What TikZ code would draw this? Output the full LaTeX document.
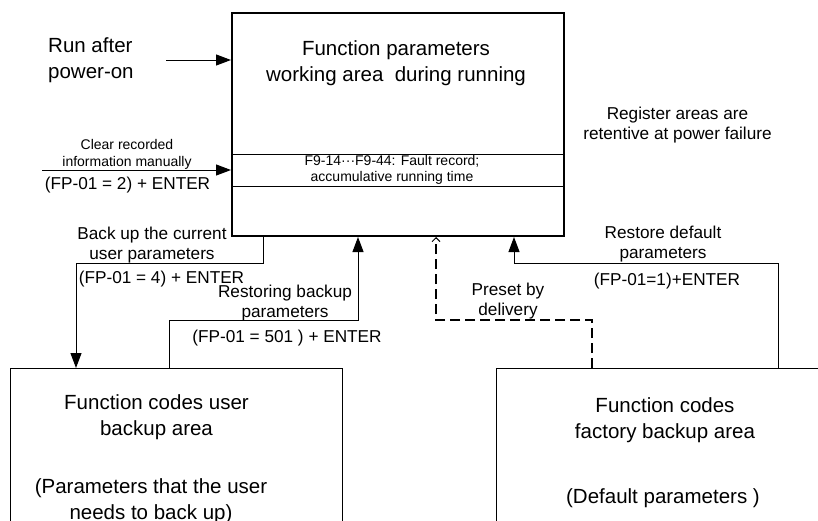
\documentclass[tikz,border=0pt]{standalone}
\usepackage{fontspec}
\setmainfont{Liberation Sans}
\usetikzlibrary{arrows.meta}
\begin{document}
\begin{tikzpicture}[x=1pt,y=-1pt,
  big/.style={font=\fontsize{20.5}{26}\selectfont, align=center, inner sep=0pt},
  mid/.style={font=\fontsize{17.2}{20}\selectfont, align=center, inner sep=0pt},
  sml/.style={font=\fontsize{14}{16.5}\selectfont, align=center, inner sep=0pt},
  box/.style={draw, line width=1pt, inner sep=0pt},
  conn/.style={line width=1pt},
  arr/.style={conn, -{Triangle[length=15pt,width=11pt]}},
  dasharrow/.style={line width=2pt, dash pattern=on 10pt off 5pt, -{Straight Barb[length=4pt,width=8pt,line width=1pt]}}
]
\fill[white] (0,0) rectangle (818,520);
\useasboundingbox (0,0) rectangle (818,520);

% boxes
\node[box, line width=2pt, minimum width=332pt, minimum height=223pt] (main) at (398,124.5) {};
\node[box, minimum width=332pt, minimum height=200pt, anchor=north west] (user) at (10,368) {};
\node[box, minimum width=340pt, minimum height=200pt, anchor=north west] (fact) at (496,368) {};

\coordinate (r1) at (0,154);
\coordinate (r2) at (0,186);
\draw[conn] (main.west |- r1) -- (main.east |- r1);
\draw[conn] (main.west |- r2) -- (main.east |- r2);

% texts in boxes
\node[big] (mt) at (396,63.5) {Function parameters\\working area~ during running};
\node[sml] (ft) at (392,170) {F9-14···F9-44: Fault record;\\accumulative running time};
\node[big] (ut1) at (156.5,417.5) {Function codes user\\backup area};
\node[big] (ut2) at (151,501.5) {(Parameters that the user\\needs to back up)};
\node[big] (ft1) at (665,420.5) {Function codes\\factory backup area};
\node[big] (ft2) at (663,498) {(Default parameters )};

% outside texts
\node[big, align=left, anchor=west] (run) at (48,60) {Run after\\power-on};
\node[sml] (clr) at (127,154.5) {Clear recorded\\information manually};
\node[mid] (clr2) at (127.5,185) {(FP-01 = 2) + ENTER};
\node[mid] (bu) at (152,245) {Back up the current\\user parameters};
\node[mid] (bu2) at (161.5,279) {(FP-01 = 4) + ENTER};
\node[mid] (rb) at (285,303) {Restoring backup\\parameters};
\node[mid] (rb2) at (287,338) {(FP-01 = 501 ) + ENTER};
\node[mid] (reg) at (677.5,125) {Register areas are\\retentive at power failure};
\node[mid] (rdl) at (663,244.5) {Restore default\\parameters};
\node[mid] (rdl2) at (667,281) {(FP-01=1)+ENTER};
\node[mid] (pd) at (508,301.5) {Preset by\\delivery};

% connectors
\coordinate (runS) at (166,60);
\draw[arr] (runS) -- (runS -| main.west);
\coordinate (clrS) at (42,170);
\draw[arr] (clrS) -- (clrS -| main.west);

\coordinate (bk) at (263,263);
\coordinate (bkd) at (76,263);
\draw[arr] (main.south -| bk) -- (bk) -- (bkd) -- (user.north -| bkd);

\coordinate (rs) at (169,320);
\coordinate (rsu) at (358,320);
\draw[arr] (user.north -| rs) -- (rs) -- (rsu) -- (main.south -| rsu);

\coordinate (ps) at (592,320);
\coordinate (psu) at (436,320);
\draw[dasharrow] (fact.north -| ps) -- (ps) -- (psu) -- (main.south -| psu);

\coordinate (rd) at (778,263);
\coordinate (rdu) at (514,263);
\draw[arr] (fact.north -| rd) -- (rd) -- (rdu) -- (main.south -| rdu);
\end{tikzpicture}
\end{document}
